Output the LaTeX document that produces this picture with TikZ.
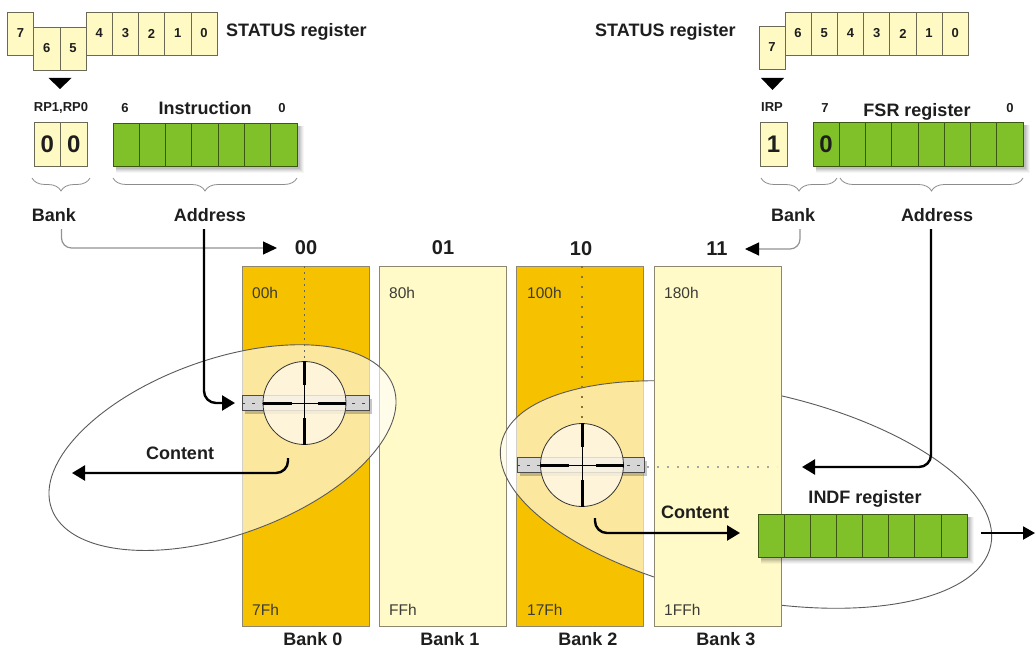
\documentclass[tikz,border=0pt]{standalone}
\usepackage{fontspec}
\setmainfont{Liberation Sans}
\usetikzlibrary{arrows.meta,decorations.pathreplacing}

\definecolor{bankorange}{RGB}{246,194,0}
\definecolor{bankpale}{RGB}{255,250,200}
\definecolor{cellpale}{RGB}{255,250,196}
\definecolor{regGreen}{RGB}{128,192,40}
\definecolor{regGreenLine}{RGB}{58,88,18}
\definecolor{cellLine}{RGB}{105,105,85}
\definecolor{bankLine}{RGB}{140,135,110}
\definecolor{inkDark}{RGB}{30,30,30}
\definecolor{addrInk}{RGB}{60,60,55}
\definecolor{barGray}{RGB}{214,214,214}
\definecolor{lensFill}{RGB}{255,248,232}
\definecolor{ovalLine}{RGB}{90,90,90}

% soft drop shadow behind a register: x1 y1 x2 y2
\newcommand\softshadow[4]{%
  \foreach \s/\o in {7/0.035,6/0.045,5/0.055,4/0.065,3/0.08}{%
    \fill[black, opacity=\o] (#1+3,#2+3) rectangle (#3+\s,#4+\s);}}

\tikzset{
  ycell/.style={draw=cellLine, fill=cellpale, line width=0.8pt,
    minimum width=26.2pt, minimum height=43pt, inner sep=0pt, outer sep=0pt,
    font=\bfseries\fontsize{13}{14}\selectfont, text=inkDark},
  gcell/.style={draw=regGreenLine, fill=regGreen, line width=0.8pt,
    minimum height=43pt, inner sep=0pt, outer sep=0pt},
  bigbit/.style={font=\bfseries\fontsize{24}{26}\selectfont},
  title/.style={font=\bfseries\fontsize{18}{20}\selectfont, text=inkDark, inner sep=0pt},
  bitno/.style={font=\bfseries\fontsize{13}{14}\selectfont, text=inkDark, inner sep=0pt},
  header/.style={font=\bfseries\fontsize{20}{22}\selectfont, text=inkDark, inner sep=0pt},
  bankbox/.style={draw=bankLine, line width=0.9pt, minimum width=127pt,
    minimum height=360pt, inner sep=0pt, outer sep=0pt},
  addr/.style={font=\fontsize{15.5}{17}\selectfont, text=addrInk, anchor=west, inner sep=0pt},
  brace/.style={decorate, decoration={brace, amplitude=13pt, mirror}, draw=gray!90, line width=0.8pt},
  thinarrow/.style={draw=gray!85, line width=1.2pt, rounded corners=10pt,
    -{Triangle[length=14pt,width=13pt,color=black]}},
  thickarrow/.style={draw=black, line width=2.4pt, rounded corners=12pt,
    -{Triangle[length=13pt,width=15pt]}},
  oval/.style={draw=ovalLine, line width=0.9pt, fill=white, fill opacity=0.62},
  lens/.style={circle, draw=black!80, line width=0.8pt, fill=lensFill, fill opacity=0.82,
    minimum size=83pt, inner sep=0pt},
  slider/.style={draw=gray!60!black, line width=0.7pt, fill=barGray,
    minimum width=127pt, minimum height=15pt, inner sep=0pt, outer sep=0pt},
  sliderdash/.style={draw=gray!55!black, line width=1pt, dash pattern=on 3pt off 7pt},
  hairline/.style={draw=black, line width=0.8pt},
  crossbar/.style={draw=black, line width=3pt},
  coldots/.style={draw=black!60, line width=1.1pt, dash pattern=on 2pt off 4pt},
  coldotsB/.style={draw=black!45!bankorange!60!gray, line width=2pt, dash pattern=on 2pt off 8pt},
  rowdots/.style={draw=gray!70, line width=1.6pt, dash pattern=on 2pt off 8pt},
}

\begin{document}
\begin{tikzpicture}[x=1pt,y=-1pt]
\useasboundingbox (0,0) rectangle (1035,650);
\fill[white] (0,0) rectangle (1035,650);

% ---------- direct addressing: STATUS bits RP1,RP0 + instruction ----------
\foreach \b/\x/\y in {7/20.6/33.5, 6/46.8/48.5, 5/73.0/48.5, 4/99.2/33.5,
                      3/125.4/33.5, 2/151.6/33.5, 1/177.8/33.5, 0/204.0/33.5}
  \node[ycell] (ls\b) at (\x,\y) {\b};
\node[title, anchor=west] (lstat) at (226,32) {STATUS register};
\fill[black] (48.5,78) -- (71.5,78) -- (60,89) -- cycle;
\node[bitno] (rplbl) at (61,108) {RP1,RP0};
\node[ycell, bigbit, minimum width=26.5pt, minimum height=44pt] (rp1) at (47.3,144) {0};
\node[ycell, bigbit, minimum width=26.5pt, minimum height=44pt] (rp0) at (73.8,144) {0};

\softshadow{113}{123}{297}{166}
\foreach \i in {0,...,6}
  \node[gcell, minimum width=26.29pt] (in\i) at ({126.1+26.29*\i},144.5) {};
\node[bitno] (inhi) at (125,108) {6};
\node[title] (inlbl) at (205,108) {Instruction};
\node[bitno] (inlo) at (282,108) {0};

\draw[brace] (32,178) -- (90,178);
\draw[brace] (113,178) -- (297,178);
\node[title] (bankL) at (54,215) {Bank};
\node[title] (addrL) at (210,215) {Address};

% ---------- indirect addressing: STATUS bit IRP + FSR ----------
\node[title, anchor=west] (rstat) at (595,32) {STATUS register};
\node[ycell] (rs7) at (772,47.5) {7};
\foreach \b [count=\i from 0] in {6,5,4,3,2,1,0}
  \node[ycell] (rs\b) at ({798.1+26.2*\i},33.5) {\b};
\fill[black] (761,78) -- (784,78) -- (772.5,90) -- cycle;
\node[bitno] (irplbl) at (772,107) {IRP};
\node[ycell, bigbit, minimum width=27pt, minimum height=44pt] (irp) at (773.5,144) {1};

\softshadow{813}{122}{1023}{166}
\foreach \i in {0,...,7}
  \node[gcell, minimum width=26.25pt, minimum height=44pt] (fsr\i) at ({826.1+26.25*\i},144) {};
\node[bigbit, text=inkDark, inner sep=0pt] at (fsr0) {0};
\node[bitno] (fsrhi) at (825,108) {7};
\node[title] (fsrlbl) at (917,112) {FSR register};
\node[bitno] (fsrlo) at (1010,108) {0};

\draw[brace] (761,178) -- (837,178);
\draw[brace] (840,178) -- (1023,178);
\node[title] (bankR) at (793,215) {Bank};
\node[title] (addrR) at (937,215) {Address};

% ---------- the four RAM banks ----------
\node[bankbox, fill=bankorange] (bank0) at (305.5,446) {};
\node[bankbox, fill=bankpale]   (bank1) at (442.5,446) {};
\node[bankbox, fill=bankorange] (bank2) at (580,446) {};
\path[oval, rotate around={-11.7:(746,494.5)}] (746,494.5) ellipse [x radius=250, y radius=104];
\node[bankbox, fill=bankpale]   (bank3) at (717.5,446) {};
\path[oval, rotate around={19.6:(222.5,447.6)}] (222.5,447.6) ellipse [x radius=181.5, y radius=88];

\node[header] (h00) at (306,248) {00};
\node[header] (h01) at (443,248) {01};
\node[header] (h10) at (581,249) {10};
\node[header] (h11) at (717,249) {11};

\node[addr] at (252,293) {00h};
\node[addr] at (389,293) {80h};
\node[addr] at (527,293) {100h};
\node[addr] at (664,293) {180h};
\node[addr] at (252,610) {7Fh};
\node[addr] at (389,610) {FFh};
\node[addr] at (527,610) {17Fh};
\node[addr] at (664,610) {1FFh};

\node[title] at (313,639) {Bank 0};
\node[title] at (450,639) {Bank 1};
\node[title] at (588,639) {Bank 2};
\node[title] at (726,639) {Bank 3};

% ---------- selected location in bank 0 ----------
\fill[black, opacity=0.22] (245,399) rectangle (372,414);
\node[slider] (bar0) at (305.5,403) {};
\draw[sliderdash] (bar0.west) -- (bar0.east);
\node[lens] (c0) at (304.5,403) {};
\draw[coldots] (c0.north |- bank0.north) -- (c0.north);
\draw[hairline] (c0.north) -- (c0.south);
\draw[hairline] (c0.west) -- (c0.east);
\draw[crossbar] (c0.north) -- ++(0,24);
\draw[crossbar] (c0.south) -- ++(0,-27);
\draw[crossbar] (c0.west) -- ++(29,0);
\draw[crossbar] (c0.east) -- ++(-28,0);

% ---------- selected location in bank 2 ----------
\fill[black, opacity=0.22] (520,461) rectangle (647,476);
\node[slider] (bar2) at (580.5,465) {};
\draw[sliderdash] (bar2.west) -- (bar2.east);
\node[lens] (c2) at (582,465) {};
\draw[coldotsB] (c2.north |- bank2.north) -- (c2.north);
\draw[rowdots] (647,467) -- (777,467);
\draw[hairline] (c2.north) -- (c2.south);
\draw[hairline] (c2.west) -- (c2.east);
\draw[crossbar] (c2.north) -- ++(0,24);
\draw[crossbar] (c2.south) -- ++(0,-27);
\draw[crossbar] (c2.west) -- ++(29,0);
\draw[crossbar] (c2.east) -- ++(-28,0);

% ---------- INDF register ----------
\softshadow{758}{514}{967}{557}
\foreach \i in {0,...,7}
  \node[gcell, minimum width=26.125pt] (indf\i) at ({771.1+26.125*\i},535.5) {};
\node[title] (indflbl) at (865,499) {INDF register};

\node[title] (contL) at (180,453) {Content};
\node[title] (contR) at (695,512) {Content};

% ---------- connectors ----------
\coordinate (bkLsrc) at (61.5,229);
\coordinate (bkLdst) at (277,248);
\coordinate (adLsrc) at (204,229);
\coordinate (adLdst) at (235,403);
\coordinate (ctLsrc) at (288,458);
\coordinate (ctLdst) at (72,473);
\coordinate (bkRsrc) at (800,229);
\coordinate (bkRdst) at (745,249);
\coordinate (adRsrc) at (931,229);
\coordinate (adRdst) at (802,467);
\coordinate (ctRsrc) at (595,518);
\coordinate (ctRdst) at (740,533);
\coordinate (outsrc) at (981,533);
\coordinate (outdst) at (1035,533);

\draw[thinarrow] (bkLsrc) |- (bkLdst);
\draw[thinarrow] (bkRsrc) |- (bkRdst);
\draw[thickarrow] (adLsrc) |- (adLdst);
\draw[thickarrow] (adRsrc) |- (adRdst);
\draw[thickarrow] (ctLsrc) |- (ctLdst);
\draw[thickarrow] (ctRsrc) |- (ctRdst);
\draw[draw=black, line width=2pt, -{Triangle[length=12pt,width=13pt]}] (outsrc) -- (outdst);
\end{tikzpicture}
\end{document}
